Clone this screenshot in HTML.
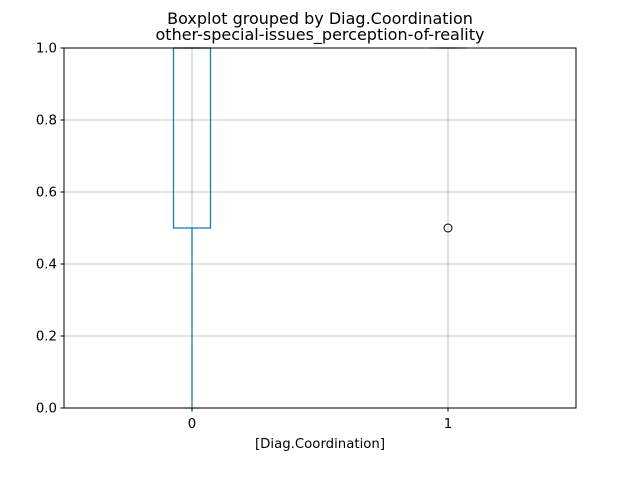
<!DOCTYPE html>
<html><head><meta charset="utf-8"><style>
body{margin:0;background:#fff}
svg{display:block;font-family:"DejaVu Sans","Liberation Sans",sans-serif}
</style></head><body>
<svg id="chart" width="640" height="480" viewBox="0 0 640 480">
<rect width="640" height="480" fill="#fff"/>
<text x="320" y="24" text-anchor="middle" font-size="16">Boxplot grouped by Diag.Coordination</text>
<text x="320" y="40" text-anchor="middle" font-size="16">other-special-issues_perception-of-reality</text>
<g id="grid"></g>
<g id="marks"></g>
<rect x="64" y="48" width="512" height="360" fill="none" stroke="#000" stroke-width="1"/>
<g id="axes"></g>
<text x="320" y="448" text-anchor="middle" font-size="13.3">[Diag.Coordination]</text>
</svg>
<script>
const categories = ["0", "1"];
const q1 = [0.5, 1.0];
const medians = [1.0, 1.0];
const q3 = [1.0, 1.0];
const whiskLow = [0.0, 1.0];
const whiskHigh = [1.0, 1.0];
const fliers = [[], [0.5]];
const yTicks = [0.0, 0.2, 0.4, 0.6, 0.8, 1.0];
const yTickLabels = ["0.0", "0.2", "0.4", "0.6", "0.8", "1.0"];

const NS = "http://www.w3.org/2000/svg";
const X0 = 64, X1 = 576, Y0 = 48, Y1 = 408;
function xs(i){ return X0 + (i + 0.5) / categories.length * (X1 - X0); }
function ys(v){ return Y1 - v * (Y1 - Y0); }
function mk(tag, attrs, parent){ const e = document.createElementNS(NS, tag); for (const k in attrs) e.setAttribute(k, attrs[k]); parent.appendChild(e); return e; }
const grid = document.getElementById("grid"), marks = document.getElementById("marks"), axes = document.getElementById("axes");

yTicks.forEach((t, i) => {
  const y = ys(t);
  const g = mk("line", {x1:X0, x2:X1, y1:y, y2:y, stroke:"#b0b0b0", "stroke-width":0.8}, grid);
  
  
  const tk = mk("line", {x1:X0-3.5, x2:X0, y1:y, y2:y, stroke:"#000"}, axes);
  
  
  const tl = mk("text", {x:X0-7, y:y+4.5, "text-anchor":"end", "font-size":13.3}, axes);
  tl.textContent = yTickLabels[i];
  
  
});
categories.forEach((c, i) => {
  const x = xs(i);
  const g = mk("line", {x1:x, x2:x, y1:Y0, y2:Y1, stroke:"#b0b0b0", "stroke-width":0.8}, grid);
  
  
  const tk = mk("line", {x1:x, x2:x, y1:Y1, y2:Y1+3.5, stroke:"#000"}, axes);
  
  
  const tl = mk("text", {x:x, y:Y1+20, "text-anchor":"middle", "font-size":13.3}, axes);
  tl.textContent = c;
  
  

  const hw = 18.5, cw = 9.5;
  const wl = mk("line", {x1:x, x2:x, y1:ys(q1[i]), y2:ys(whiskLow[i]), stroke:"#1f77b4", "stroke-width":1.3}, marks);
  
  
  const wh = mk("line", {x1:x, x2:x, y1:ys(q3[i]), y2:ys(whiskHigh[i]), stroke:"#1f77b4", "stroke-width":1.3}, marks);
  
  
  const cl = mk("line", {x1:x-cw, x2:x+cw, y1:ys(whiskLow[i]), y2:ys(whiskLow[i]), stroke:"#a0a0a0", "stroke-width":1.3}, marks);
  
  
  const ch = mk("line", {x1:x-cw, x2:x+cw, y1:ys(whiskHigh[i]), y2:ys(whiskHigh[i]), stroke:"#a0a0a0", "stroke-width":1.3}, marks);
  
  
  const b = mk("rect", {x:x-hw, y:ys(q3[i]), width:2*hw, height:Math.max(0, ys(q1[i]) - ys(q3[i])), fill:"none", stroke:"#1f77b4", "stroke-width":1.3}, marks);
  
  
  const m = mk("line", {x1:x-hw, x2:x+hw, y1:ys(medians[i]), y2:ys(medians[i]), stroke:"#2ca02c", "stroke-width":1.3}, marks);
  
  
  fliers[i].forEach(v => {
    const f = mk("circle", {cx:x, cy:ys(v), r:4, fill:"none", stroke:"#000", "stroke-width":1}, marks);
    
    
  });
});
</script>
</body></html>
